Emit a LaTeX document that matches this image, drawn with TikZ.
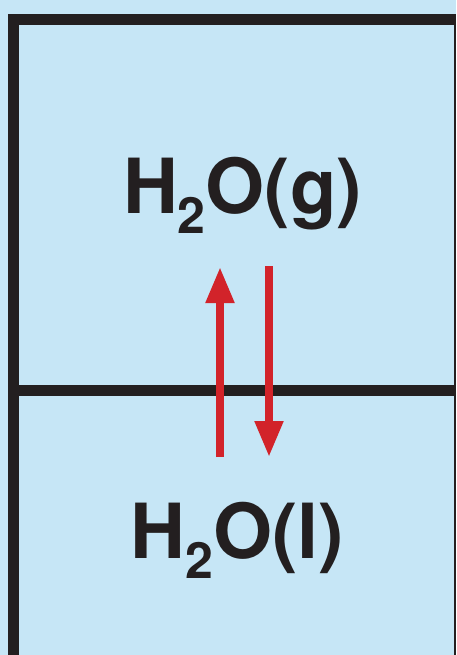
\documentclass[tikz,border=0pt]{standalone}
\usepackage{fontspec}
\setmainfont{TeX Gyre Heros}
\usetikzlibrary{arrows.meta}
\definecolor{paleblue}{HTML}{C6E6F6}
\definecolor{framegray}{HTML}{231F20}
\definecolor{arrowred}{HTML}{D2232A}
\newcommand{\water}[1]{\bfseries H\raisebox{-20pt}{\fontsize{50}{50}\selectfont 2}O(#1)}

\begin{document}
\begin{tikzpicture}[x=1pt,y=-1pt,
  wall/.style={line width=11pt,framegray},
  flow/.style={line width=8pt,arrowred,-{Triangle[length=36pt,width=27pt]}},
  phase/.style={anchor=base,inner sep=0pt,text=framegray,font=\fontsize{76}{80}\selectfont}]
\fill[paleblue] (0,0) rectangle (456,655);
\useasboundingbox (0,0) rectangle (456,655);
% container walls
\draw[wall,line join=miter] (13.5,655) -- (13.5,19.5) -- (456,19.5);
\draw[wall] (8,390.5) -- (456,390.5);
\draw[framegray,line width=1.2pt] (455,25) -- (455,655);
% phases
\node[phase] (gas) at (242.5,213) {\water{g}};
\node[phase] (liquid) at (237.5,558) {\water{l}};
% equilibrium
\coordinate (evapA) at (220,457);
\coordinate (evapB) at (220,267);
\coordinate (condA) at (269,266);
\coordinate (condB) at (269,457);
\draw[flow] (evapA) -- (evapB);
\draw[flow] (condA) -- (condB);
\end{tikzpicture}
\end{document}
